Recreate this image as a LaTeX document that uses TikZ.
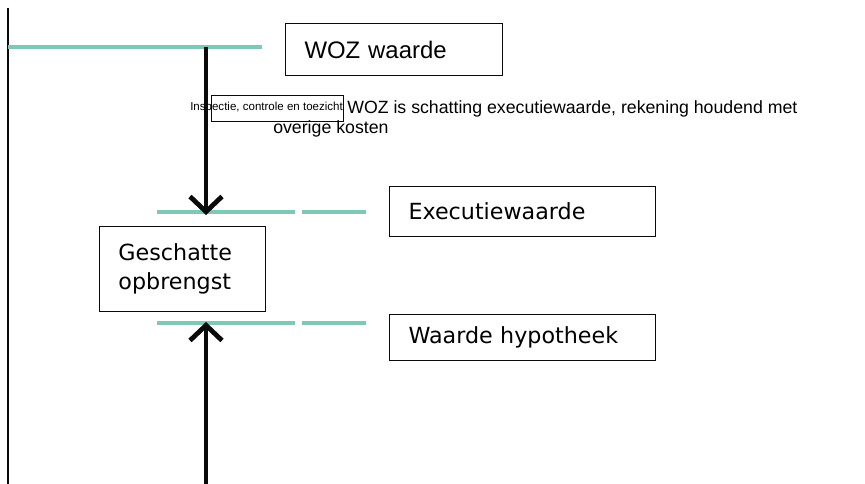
\documentclass[tikz,border=0pt]{standalone}
\usepackage{fontspec}
\usepackage{tikz}
\usetikzlibrary{arrows.meta, positioning}
\newfontfamily\boxfont{DejaVu Sans}
\newfontfamily\notefont{Liberation Sans}
\definecolor{levelline}{RGB}{125, 200, 182}
\definecolor{inkline}{RGB}{10, 10, 10}
\tikzset{
  valuebox/.style={
    rectangle, draw=inkline, line width=0.7pt, fill=white,
    inner xsep=0.475cm, inner ysep=0pt, align=left, anchor=north west,
    font=\boxfont\fontsize{15.8}{20.5}\selectfont
  },
  levelstroke/.style={draw=levelline, line width=2.6pt},
  bigarrow/.style={
    draw=inkline, line width=3.4pt,
    -{Straight Barb[length=3.8mm, width=8mm, line width=3.4pt]}
  },
  notetext/.style={font=\notefont\fontsize{12.6}{14}\selectfont, inner sep=0pt},
  tinytext/.style={font=\notefont\fontsize{8.2}{9}\selectfont, inner sep=0pt}
}
\begin{document}
\begin{tikzpicture}[x=0.025cm, y=-0.025cm]
  \useasboundingbox (0,0) rectangle (865,484);

  % left axis
  \coordinate (axistop) at (8,8);
  \coordinate (axisbot) at (8,484);
  \draw[inkline, line width=1.4pt] (axistop) -- (axisbot);

  % WOZ level
  \coordinate (wozleft) at (8,47);
  \coordinate (wozright) at (262,47);
  \coordinate (wozarrow) at (206,47);
  \draw[levelstroke] (wozleft) -- (wozright);
  \node[valuebox, text width=4.475cm, minimum height=1.3cm, font=\notefont\fontsize{17}{20}\selectfont] (woz) at (285,23) {WOZ waarde};

  % Executiewaarde level
  \coordinate (execleft) at (157,212);
  \coordinate (execmid) at (295,212);
  \coordinate (execmidb) at (302,212);
  \coordinate (execright) at (366,212);
  \coordinate (execarrow) at (206,215);
  \draw[levelstroke] (execleft) -- (execmid);
  \draw[levelstroke] (execmidb) -- (execright);
  \node[valuebox, text width=5.7cm, minimum height=1.25cm] (exec) at (389,186) {Executiewaarde};

  % Hypotheek level
  \coordinate (hypleft) at (157,323);
  \coordinate (hypmid) at (295,323);
  \coordinate (hypmidb) at (302,323);
  \coordinate (hypright) at (366,323);
  \coordinate (hyparrow) at (206,322);
  \coordinate (hypstart) at (206,484);
  \draw[levelstroke] (hypleft) -- (hypmid);
  \draw[levelstroke] (hypmidb) -- (hypright);
  \node[valuebox, text width=5.7cm, minimum height=1.15cm, below=1.925cm of exec.south west, anchor=north west] (hyp) {Waarde hypotheek};

  % Geschatte opbrengst
  \node[valuebox, text width=3.2cm, minimum height=2.125cm] (opbr) at (99,226) {Geschatte\\opbrengst};

  % annotations
  \node[draw=inkline, line width=0.5pt, minimum width=3.3cm, minimum height=0.65cm, anchor=north west, inner sep=0pt] (insbox) at (211,95) {};
  \node[tinytext, anchor=west] (ins) at (190,108) {Inspectie, controle en toezicht};
  \node[notetext, anchor=base west] (note1) at (347,114) {WOZ is schatting executiewaarde, rekening houdend met};
  \node[notetext, anchor=base west] (note2) at (273,134) {overige kosten};

  % arrows
  \draw[bigarrow] (wozarrow) -- (execarrow);
  \draw[bigarrow] (hypstart) -- (hyparrow);

\end{tikzpicture}
\end{document}
